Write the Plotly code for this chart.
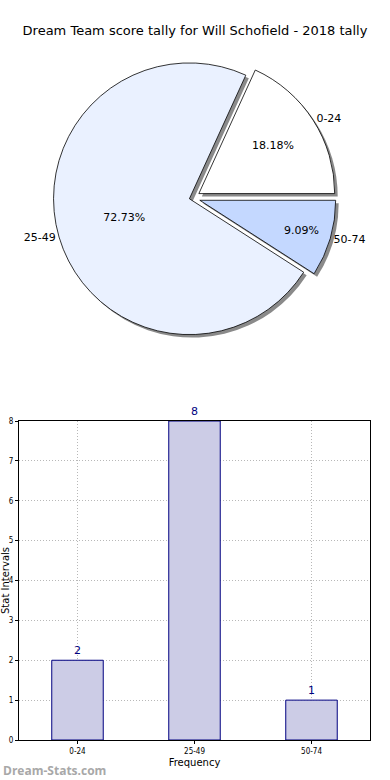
import plotly.graph_objects as go

categories = ["0-24", "25-49", "50-74"]
counts = [2, 8, 1]
slice_colors = ["#ffffff", "#eaf1ff", "#c4d8ff"]
title_text = "Dream Team score tally for Will Schofield - 2018 tally"

W, H = 390, 780
def px_x(v): return v / W
def px_y(v): return (H - v) / H

R = 144
CX, CY = 192, 198
pie_dom_x = [px_x(CX - R), px_x(CX + R)]
pie_dom_y = [px_y(CY + R), px_y(CY - R)]
sh = 3
shadow_dom_x = [px_x(CX - R + sh), px_x(CX + R + sh)]
shadow_dom_y = [px_y(CY + R + sh), px_y(CY - R + sh)]
pulls = [0.06, 0.02, 0.06]
rot = 90 - 360 * counts[0] / sum(counts)

fig = go.Figure()
# shadow
fig.add_trace(go.Pie(
    labels=categories, values=counts, sort=False, direction="counterclockwise",
    rotation=rot, pull=pulls, domain=dict(x=shadow_dom_x, y=shadow_dom_y),
    marker=dict(colors=["#8a8a8a"] * 3, line=dict(color="#8a8a8a", width=0)),
    textinfo="none", showlegend=False, hoverinfo="skip"))
# main pie with percentages
fig.add_trace(go.Pie(
    labels=categories, values=counts, sort=False, direction="counterclockwise",
    rotation=rot, pull=pulls, domain=dict(x=pie_dom_x, y=pie_dom_y),
    marker=dict(colors=slice_colors, line=dict(color="#000000", width=0.8)),
    texttemplate="%{percent:.2%}", textposition="inside", insidetextorientation="horizontal",
    textfont=dict(family="DejaVu Sans", size=11, color="#000000"),
    showlegend=False))
# outside labels
fig.add_trace(go.Pie(
    labels=categories, values=counts, sort=False, direction="counterclockwise",
    rotation=rot, pull=pulls, domain=dict(x=pie_dom_x, y=pie_dom_y),
    marker=dict(colors=["rgba(0,0,0,0)"] * 3, line=dict(width=0)),
    texttemplate="%{label}", textposition="outside",
    textfont=dict(family="DejaVu Sans", size=11, color="#000000"),
    showlegend=False, hoverinfo="skip"))

fig.add_trace(go.Bar(
    x=categories, y=counts, width=0.44,
    marker=dict(color="#ccccE6", line=dict(color="#000080", width=1)),
    text=[str(c) for c in counts], textposition="outside",
    textfont=dict(family="DejaVu Sans", size=11, color="#000080"),
    cliponaxis=False, showlegend=False, xaxis="x", yaxis="y"))

fig.update_layout(
    width=W, height=H, margin=dict(l=0, r=0, t=0, b=0),
    paper_bgcolor="white", plot_bgcolor="white",
    title=dict(text=title_text, x=0.5, xanchor="center", y=px_y(30), yanchor="middle",
               font=dict(family="DejaVu Sans", size=13, color="#000000")),
    xaxis=dict(domain=[px_x(19), px_x(370)], range=[-0.5, 2.5], anchor="y",
               showgrid=True, gridcolor="#b8b8b8", griddash="1px,2px", gridwidth=1,
               showline=True, linecolor="black", mirror=True, linewidth=1,
               ticks="outside", ticklen=3, tickcolor="black",
               tickfont=dict(family="DejaVu Sans Condensed, DejaVu Sans", size=8, color="black"),
               title=dict(text="Frequency", standoff=4,
                          font=dict(family="DejaVu Sans", size=10, color="black")),
               automargin=False),
    yaxis=dict(domain=[px_y(740), px_y(421)], range=[0, 8], dtick=1, anchor="x",
               showgrid=True, gridcolor="#b8b8b8", griddash="1px,2px", gridwidth=1,
               showline=True, linecolor="black", mirror=True, linewidth=1,
               ticks="outside", ticklen=3, tickcolor="black",
               tickfont=dict(family="DejaVu Sans Condensed, DejaVu Sans", size=8, color="black"),
               zeroline=False, automargin=False),
    annotations=[
        dict(text="<b>Dream-Stats.com</b>", x=px_x(1), xanchor="left", y=px_y(770), yanchor="middle",
             xref="paper", yref="paper", showarrow=False,
             font=dict(family="Open Sans", size=12, color="#a8a8a8")),
        dict(text="Stat Intervals", textangle=-90, x=px_x(5), xanchor="center",
             y=px_y(581), yanchor="middle", xref="paper", yref="paper", showarrow=False,
             font=dict(family="DejaVu Sans", size=10, color="black")),
    ],
)

fig.write_html("out.html", config={"displayModeBar": False},
               post_script="document.body.style.margin='0';document.body.style.overflow='hidden';")
